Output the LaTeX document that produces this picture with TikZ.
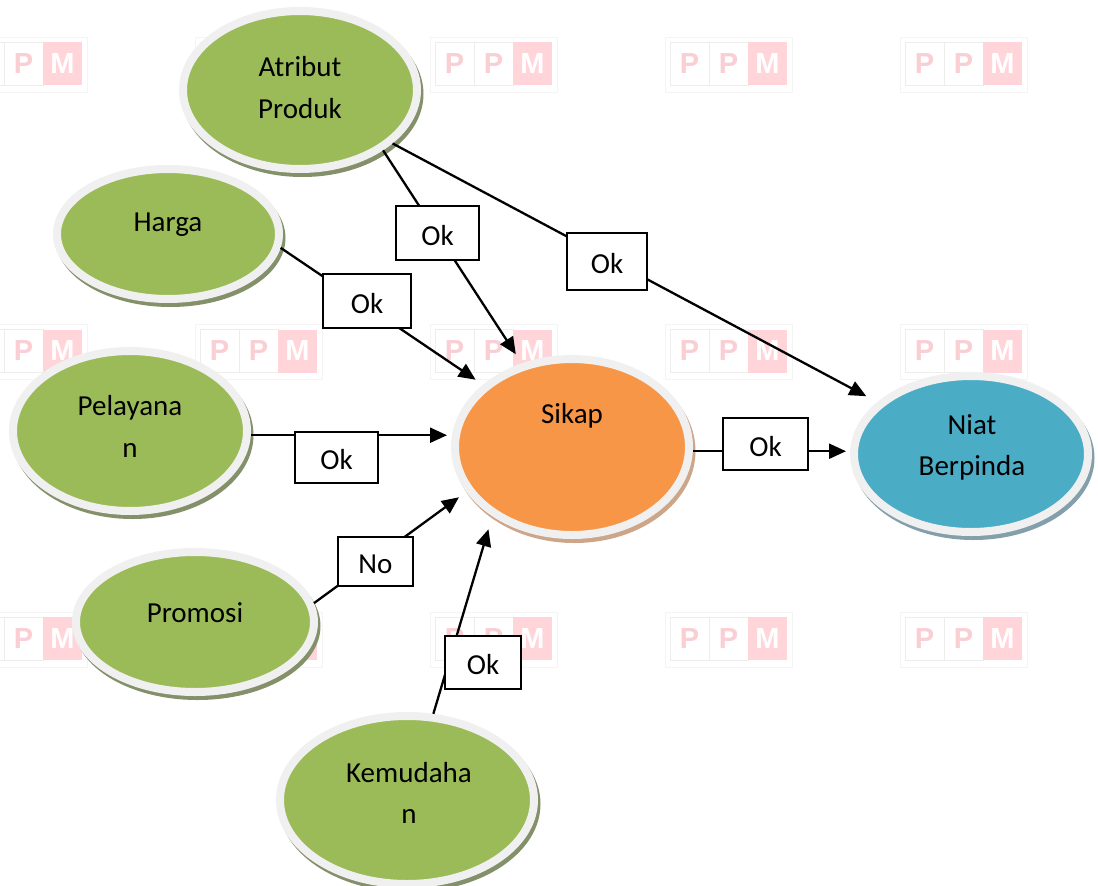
\documentclass[tikz,border=0pt]{standalone}
\usepackage{fontspec}
\setmainfont{Carlito}
\newfontfamily\markfont{Liberation Sans}
\usetikzlibrary{shapes.geometric,arrows.meta}

\definecolor{leaf}{HTML}{9BBB59}
\definecolor{leafshade}{HTML}{83906A}
\definecolor{peach}{HTML}{F79646}
\definecolor{peachshade}{HTML}{CDA588}
\definecolor{aqua}{HTML}{4BACC6}
\definecolor{aquashade}{HTML}{849FAC}
\definecolor{rim}{HTML}{F0F0F0}
\definecolor{markpink}{HTML}{FFD5DA}
\definecolor{markletter}{HTML}{FACFD4}
\definecolor{markline}{HTML}{EDEDED}
\definecolor{markframe}{HTML}{F4F4F4}

% bubble: name, x, y, x radius, y radius (of the coloured part), fill, shadow
\newcommand{\bubble}[7]{%
  \fill[#7] ({#2+2.5},{#3+4}) ellipse [x radius={(#4+8)*1pt}, y radius={(#5+8)*1pt}];
  \node[bubblebase, fill=#6,
        minimum width={(2*#4+8)*1pt}, minimum height={(2*#5+8)*1pt}] (#1) at (#2,#3) {};
}

% logo stamp frame and cells: left, top
\newcommand{\stampcells}[2]{%
  \draw[stampframe] (#1,#2) rectangle ++(127,55);
  \draw[stampcell] ({#1+5},{#2+5}) rectangle ++(39,43);
  \draw[stampcell] ({#1+44},{#2+5}) rectangle ++(39,43);
  \fill[markpink] ({#1+83},{#2+5}) rectangle ++(39,43);
}
% full logo stamp: id, left, top
\newcommand{\ppmstamp}[3]{%
  \stampcells{#2}{#3}
  \node[stampletter, text=markletter] (#1-p1) at ({#2+24.5},{#3+26.5}) {P};
  \node[stampletter, text=markletter] (#1-p2) at ({#2+63.5},{#3+26.5}) {P};
  \node[stampletter, text=white] (#1-m) at ({#2+102.5},{#3+26.5}) {M};
}
% stamp cut by the left edge: only the last two letters show
\newcommand{\edgestamp}[3]{%
  \stampcells{#2}{#3}
  \node[stampletter, text=markletter] (#1-p2) at ({#2+63.5},{#3+26.5}) {P};
  \node[stampletter, text=white] (#1-m) at ({#2+102.5},{#3+26.5}) {M};
}

\begin{document}
\begin{tikzpicture}[x=1pt,y=-1pt,
  bubblebase/.style={ellipse, draw=rim, line width=8pt, inner sep=0pt},
  tag/.style={font=\fontsize{29}{41}\selectfont, inner sep=0pt, anchor=base},
  conn/.style={line width=2.3pt, -{Triangle[length=17pt,width=15pt]}},
  okbox/.style={draw, line width=1.3pt, fill=white, inner sep=0pt,
    font=\fontsize{29}{35}\selectfont, text height=24pt, text depth=0pt},
  stampframe/.style={draw=markframe, line width=0.8pt},
  stampcell/.style={draw=markline, line width=0.8pt},
  stampletter/.style={font=\markfont\bfseries\fontsize{29}{29}\selectfont, inner sep=0pt}
]
\fill[white] (0,0) rectangle (1098,886);
\useasboundingbox (0,0) rectangle (1098,886);
\clip (0,0) rectangle (1098,886);

% background stamps
\foreach \r/\yy in {0/37,1/324.5,2/612}{
  \edgestamp{s0\r}{-40}{\yy}
}
\stampcells{195}{37}
\ppmstamp{s11}{195}{324.5}
\stampcells{195}{612}
\foreach \c/\xx in {2/430,3/665,4/900}{
  \foreach \r/\yy in {0/37,1/324.5,2/612}{
    \ppmstamp{s\c\r}{\xx}{\yy}
  }
}

% variables
\bubble{atr}{300}{90}{113}{75}{leaf}{leafshade}
\bubble{har}{168}{234}{107}{61}{leaf}{leafshade}
\bubble{pel}{130}{431}{113}{76}{leaf}{leafshade}
\bubble{pro}{195}{622}{115}{66}{leaf}{leafshade}
\bubble{kem}{407}{800}{123}{80}{leaf}{leafshade}
\bubble{sik}{572}{447}{113}{84}{peach}{peachshade}
\bubble{nia}{971}{454}{113}{74}{aqua}{aquashade}

% texts
\node[tag] (atr-a) at (300,76.5) {Atribut};
\node[tag] (atr-b) at (300,118.5) {Produk};
\node[tag] (har-a) at (168,231) {Harga};
\node[tag] (pel-a) at (130,415) {Pelayana};
\node[tag] (pel-b) at (130,457) {n};
\node[tag] (pro-a) at (195,622) {Promosi};
\node[tag] (kem-a) at (409,782) {Kemudaha};
\node[tag] (kem-b) at (409,823) {n};
\node[tag] (sik-a) at (572,423) {Sikap};
\node[tag] (nia-a) at (972,434) {Niat};
\node[tag] (nia-b) at (972,475) {Berpinda};

% relations
\draw[conn, shorten >=10.8pt] (atr.-36.6) -- (sik.121.7);
\draw[conn, shorten >=12.5pt] (atr.-30.1) -- (nia.151);
\draw[conn, shorten >=8.9pt] (har.-7.1) -- (sik.145.05);
\draw[conn, shorten >=4pt] (pel.-2.8) -- (pel.-2.8 -| sik.west);
\draw[conn, shorten >=9.2pt] (pro.9.46) -- (sik.203.08);
\draw[conn, shorten >=13.6pt] (kem.73) -- (sik.221.2);
\draw[conn, shorten >=4pt] (sik.-2.8) -- (sik.-2.8 -| nia.west);

% result labels
\node[okbox, minimum width=83pt, minimum height=54pt] (b1) at (437.5,233) {Ok\hspace{7pt}};
\node[okbox, minimum width=80pt, minimum height=57pt] (b2) at (607,261.5) {Ok\hspace{6pt}};
\node[okbox, minimum width=88pt, minimum height=54pt] (b3) at (367,301) {Ok\hspace{13pt}};
\node[okbox, minimum width=83pt, minimum height=51pt] (b4) at (336.5,457.5) {Ok\hspace{8pt}};
\node[okbox, minimum width=85pt, minimum height=52pt] (b5) at (765.5,444) {Ok\hspace{9pt}};
\node[okbox, minimum width=75pt, minimum height=49pt] (b6) at (375.5,561.5) {No};
\node[okbox, minimum width=76pt, minimum height=53pt] (b7) at (483,662.5) {Ok\hspace{2pt}};
\end{tikzpicture}
\end{document}
